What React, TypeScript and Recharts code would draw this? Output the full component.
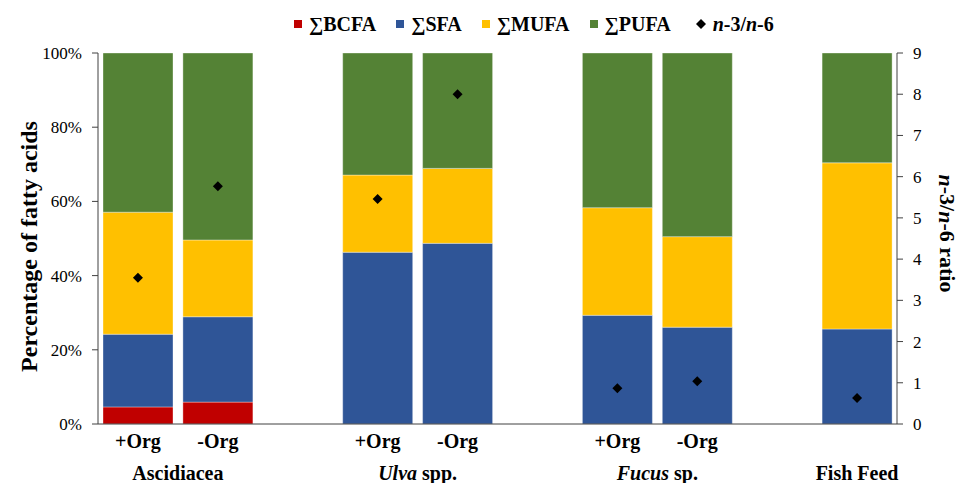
import { Bar, ComposedChart, Legend, Scatter, XAxis, YAxis } from "recharts";

const FONT = "'Liberation Serif', 'Times New Roman', serif";
const AXIS = "#404040";

// one slot per bar position; empty slots keep the gaps between the groups
const sampleLabels = ["+Org", "-Org", "", "+Org", "-Org", "", "+Org", "-Org", "", ""];
const bcfa = [4.6, 5.9, null, 0, 0, null, 0, 0, null, 0];
const sfa = [19.6, 23.0, null, 46.3, 48.7, null, 29.3, 26.1, null, 25.6];
const mufa = [32.9, 20.7, null, 20.8, 20.2, null, 29.0, 24.4, null, 44.8];
const pufa = [42.9, 50.4, null, 32.9, 31.1, null, 41.7, 49.5, null, 29.6];
const ratio = [3.55, 5.77, null, 5.46, 8.0, null, 0.87, 1.04, null, 0.63];

const groups = [
  { start: 0, span: 2, italic: "", rest: "Ascidiacea" },
  { start: 3, span: 2, italic: "Ulva", rest: " spp." },
  { start: 6, span: 2, italic: "Fucus", rest: " sp." },
  { start: 9, span: 1, italic: "", rest: "Fish Feed" },
];

const percentTicks = [0, 20, 40, 60, 80, 100];
const ratioTicks = [0, 1, 2, 3, 4, 5, 6, 7, 8, 9];

const COLORS = {
  bcfa: "#C00000",
  sfa: "#2F5597",
  mufa: "#FFC000",
  pufa: "#548235",
};

const data = sampleLabels.map((sample, i) => ({
  slot: String(i),
  sample,
  bcfa: bcfa[i],
  sfa: sfa[i],
  mufa: mufa[i],
  pufa: pufa[i],
  ratio: ratio[i],
}));

const WIDTH = 960;
const HEIGHT = 483;
const LEFT_W = 98;
const RIGHT_W = 63;
const SLOT_W = (WIDTH - LEFT_W - RIGHT_W) / data.length;

function SampleTick({ x, y, payload }: any) {
  const i = Number(payload.value);
  const group = groups.find((g) => g.start === i);
  return (
    <g>
      {sampleLabels[i] && (
        <text
          x={x}
          y={y}
          dy={16}
          textAnchor="middle"
          fontFamily={FONT}
          fontSize={20}
          fontWeight="bold"
          fill="#000"
        >
          {sampleLabels[i]}
        </text>
      )}
      {group && (
        <text
          x={x + ((group.span - 1) * SLOT_W) / 2}
          y={y}
          dy={48}
          textAnchor="middle"
          fontFamily={FONT}
          fontSize={20}
          fontWeight="bold"
          fill="#000"
        >
          {group.italic && <tspan fontStyle="italic">{group.italic}</tspan>}
          {group.rest}
        </text>
      )}
    </g>
  );
}

function Diamond({ cx, cy }: any) {
  if (cx == null || cy == null || Number.isNaN(cy)) return null;
  const r = 5;
  return (
    <polygon
      points={`${cx},${cy - r} ${cx + r},${cy} ${cx},${cy + r} ${cx - r},${cy}`}
      fill="#000"
    />
  );
}

function LeftTitle({ viewBox }: any) {
  const x = viewBox.x + 29;
  const y = viewBox.y + viewBox.height / 2 + 8;
  return (
    <text
      x={x}
      y={y}
      transform={`rotate(-90 ${x} ${y})`}
      textAnchor="middle"
      dominantBaseline="central"
      fontFamily={FONT}
      fontSize={24}
      fontWeight="bold"
      fill="#000"
    >
      Percentage of fatty acids
    </text>
  );
}

function RightTitle({ viewBox }: any) {
  const x = viewBox.x + 50;
  const y = viewBox.y + viewBox.height / 2 - 5;
  return (
    <text
      x={x}
      y={y}
      transform={`rotate(90 ${x} ${y})`}
      textAnchor="middle"
      dominantBaseline="central"
      fontFamily={FONT}
      fontSize={22}
      fontWeight="bold"
      fill="#000"
    >
      <tspan fontStyle="italic">n</tspan>-3/<tspan fontStyle="italic">n</tspan>-6 ratio
    </text>
  );
}

const legendItems = [
  { key: "bcfa", label: "∑BCFA" },
  { key: "sfa", label: "∑SFA" },
  { key: "mufa", label: "∑MUFA" },
  { key: "pufa", label: "∑PUFA" },
];

function ChartLegend() {
  return (
    <div
      style={{
        display: "flex",
        alignItems: "center",
        gap: 20,
        fontFamily: FONT,
        fontSize: 20,
        fontWeight: "bold",
        lineHeight: "24px",
        whiteSpace: "nowrap",
      }}
    >
      {legendItems.map((item) => (
        <span key={item.key} style={{ display: "flex", alignItems: "center", gap: 7 }}>
          <span
            style={{
              width: 8,
              height: 8,
              background: COLORS[item.key as keyof typeof COLORS],
            }}
          />
          {item.label}
        </span>
      ))}
      <span style={{ display: "flex", alignItems: "center", gap: 7, marginLeft: 5 }}>
        <svg width={10} height={10}>
          <polygon points="5,0 10,5 5,10 0,5" fill="#000" />
        </svg>
        <span>
          <i>n</i>-3/<i>n</i>-6
        </span>
      </span>
    </div>
  );
}

export default function App() {
  return (
    <div style={{ position: "absolute", left: 0, top: 0, width: WIDTH, height: HEIGHT }}>
      <ComposedChart
        width={WIDTH}
        height={HEIGHT}
        data={data}
        margin={{ top: 53, right: 0, bottom: 0, left: 0 }}
        barSize={70}
      >
        <XAxis
          dataKey="slot"
          height={59}
          tick={<SampleTick />}
          tickLine={false}
          axisLine={{ stroke: AXIS }}
          interval={0}
        />
        <YAxis
          yAxisId="left"
          width={LEFT_W}
          domain={[0, 100]}
          ticks={percentTicks}
          tickFormatter={(v) => `${v}%`}
          tickSize={6}
          tickMargin={10}
          axisLine={{ stroke: AXIS }}
          tickLine={{ stroke: AXIS }}
          tick={{ fill: "#000", fontSize: 17, fontFamily: FONT }}
          label={<LeftTitle />}
        />
        <YAxis
          yAxisId="right"
          orientation="right"
          width={RIGHT_W}
          domain={[0, 9]}
          ticks={ratioTicks}
          tickSize={6}
          tickMargin={10}
          axisLine={{ stroke: AXIS }}
          tickLine={{ stroke: AXIS }}
          tick={{ fill: "#000", fontSize: 17, fontFamily: FONT }}
          label={<RightTitle />}
        />
        <Legend
          verticalAlign="middle"
          align="center"
          wrapperStyle={{ top: 12, left: 294, width: "auto" }}
          content={<ChartLegend />}
        />
        {(["bcfa", "sfa", "mufa", "pufa"] as const).map((key) => (
          <Bar
            key={key}
            yAxisId="left"
            dataKey={key}
            stackId="fa"
            fill={COLORS[key]}
            stroke="#ffffff"
            strokeOpacity={0.35}
            strokeWidth={1}
            isAnimationActive={false}
          />
        ))}
        <Scatter
          yAxisId="right"
          dataKey="ratio"
          shape={<Diamond />}
          isAnimationActive={false}
        />
      </ComposedChart>
    </div>
  );
}
